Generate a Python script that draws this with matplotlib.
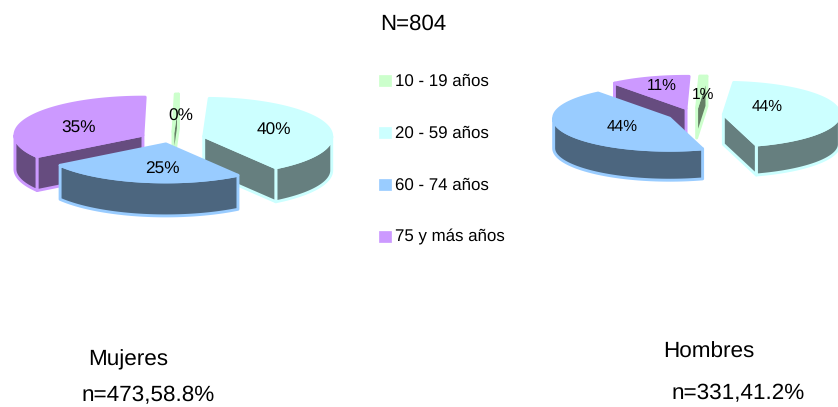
import numpy as np
import matplotlib
matplotlib.use('Agg')
import matplotlib.pyplot as plt
from matplotlib.patches import Polygon, Rectangle

plt.rcParams['font.family'] = ['Liberation Sans', 'DejaVu Sans']
plt.rcParams['text.hinting'] = 'none'

# Data
categories = ['10 - 19 años', '20 - 59 años', '60 - 74 años', '75 y más años']
mujeres = [0.4, 39.8, 25.0, 34.8]
hombres = [1.0, 44.0, 44.0, 11.0]

colors = ['#CCFFCC', '#CCFFFF', '#99CCFF', '#CC99FF']
dark_colors = ['#667F66', '#667F7F', '#4C667F', '#664C7F']


def point(cx, cy, rx, ry, deg):
    # angle measured clockwise from the top of the ellipse
    t = np.radians(deg)
    return np.array([cx + rx * np.sin(t), cy - ry * np.cos(t)])


def draw_slice(ax, idx, a0, a1, cx, cy, rx, ry, depth, ex, ey):
    mid = np.radians((a0 + a1) / 2)
    ax0 = cx + ex * np.sin(mid)
    ay0 = cy - ey * np.cos(mid)
    apex = np.array([ax0, ay0])
    drop = np.array([0, depth])
    style = dict(edgecolor=colors[idx], linewidth=2.1, joinstyle='round')

    # outer wall, only the front half of the ellipse can be seen
    lo, hi = max(a0, 90), min(a1, 270)
    if lo < hi:
        arc = np.array([point(ax0, ay0, rx, ry, d) for d in np.linspace(lo, hi, 60)])
        wall = np.vstack([arc, arc[::-1] + drop])
        ax.add_patch(Polygon(wall, facecolor=dark_colors[idx], **style))

    # cut faces
    for ang, visible in ((a0, 180 < a0 < 360), (a1, 0 < a1 < 180)):
        if visible:
            p = point(ax0, ay0, rx, ry, ang)
            ax.add_patch(Polygon([apex, p, p + drop, apex + drop],
                                 facecolor=dark_colors[idx], **style))

    # top surface
    arc = np.array([point(ax0, ay0, rx, ry, d) for d in np.linspace(a0, a1, 80)])
    ax.add_patch(Polygon(np.vstack([apex, arc]), facecolor=colors[idx], **style))


def draw_pie(ax, values, order, start, cx, cy, rx, ry, depth, ex, ey):
    edges = start + np.concatenate([[0], np.cumsum(values)]) * 3.6
    for i in order:
        draw_slice(ax, i, edges[i], edges[i + 1], cx, cy, rx, ry, depth, ex, ey)


fig = plt.figure(figsize=(8.38, 4.07), dpi=100)
ax = fig.add_axes([0, 0, 1, 1])
ax.set_xlim(0, 838)
ax.set_ylim(407, 0)
ax.axis('off')

draw_pie(ax, mujeres, [0, 3, 1, 2], 1.0, 172, 138, 128, 38, 34, 33, 6)
draw_pie(ax, hombres, [3, 0, 2, 1], 1.5, 695, 115, 116, 32, 30, 28.5, 7)

# Percent labels
left_xy = [(181, 116), (274, 130), (162, 169), (79, 128)]
right_xy = [(703, 95), (767, 107), (622, 127), (662, 86)]
for v, (x, y) in zip(mujeres, left_xy):
    ax.text(x, y, f'{v:.0f}%', fontsize=12.4, ha='center', va='center', color='black')
for v, (x, y) in zip(hombres, right_xy):
    ax.text(x, y, f'{v:.0f}%', fontsize=11.2, ha='center', va='center', color='black')

# Legend
legend_y = [80, 132, 184, 236]
for name, c, y in zip(categories, colors, legend_y):
    ax.add_patch(Rectangle((379, y - 5.5), 11.5, 11.5, facecolor=c, edgecolor=c, linewidth=0.5))
    ax.text(395, y + 1, name, fontsize=12.2, ha='left', va='center', color='black')

# Titles
ax.text(380, 24, 'N=804', fontsize=16, ha='left', va='center')
ax.text(88, 360, 'Mujeres', fontsize=16.2, ha='left', va='center')
ax.text(81, 395, 'n=473,58.8%', fontsize=16.2, ha='left', va='center')
ax.text(663, 352, 'Hombres', fontsize=16.2, ha='left', va='center')
ax.text(671, 394, 'n=331,41.2%', fontsize=16.2, ha='left', va='center')

fig.savefig('out.png', dpi=100)
